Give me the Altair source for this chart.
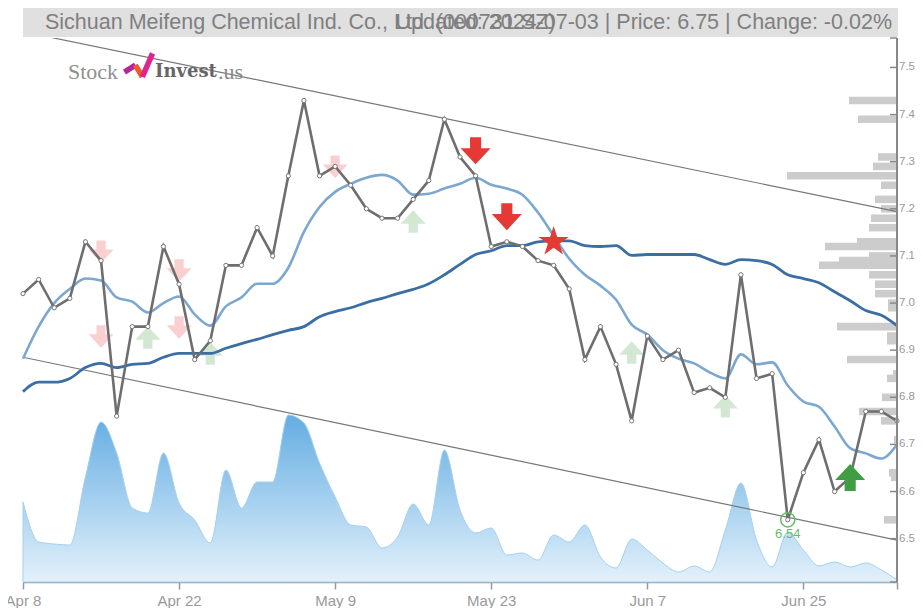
import altair as alt
import pandas as pd

dates = {0: "Apr 8", 10: "Apr 22", 20: "May 9", 30: "May 23", 40: "Jun 7", 50: "Jun 25"}
price = [7.02,7.05,6.99,7.01,7.13,7.09,6.76,6.95,6.95,7.12,7.04,6.88,6.92,7.08,7.08,7.16,7.10,7.27,7.43,7.27,
         7.29,7.25,7.20,7.18,7.18,7.22,7.26,7.39,7.31,7.27,7.12,7.13,7.12,7.09,7.08,7.03,6.88,6.95,6.87,6.75,
         6.93,6.88,6.90,6.81,6.82,6.80,7.06,6.84,6.85,6.54,6.64,6.71,6.60,6.63,6.77,6.77,6.75]
ma_short = [6.882,6.95,7.00,7.03,7.052,7.048,7.012,7.003,6.98,7.00,7.014,6.976,6.952,6.993,7.012,7.041,7.041,7.075,7.151,7.204,
            7.236,7.253,7.266,7.272,7.26,7.23,7.232,7.243,7.253,7.266,7.251,7.243,7.23,7.192,7.143,7.094,7.06,7.037,7.007,6.954,
            6.933,6.90,6.882,6.872,6.853,6.84,6.891,6.87,6.874,6.825,6.791,6.78,6.738,6.692,6.681,6.67,6.70]
ma_long = [6.812,6.832,6.832,6.84,6.863,6.872,6.863,6.87,6.872,6.885,6.893,6.893,6.893,6.904,6.914,6.923,6.933,6.942,6.95,6.971,
           6.982,6.99,7.001,7.01,7.02,7.029,7.041,7.06,7.082,7.103,7.111,7.122,7.122,7.13,7.132,7.132,7.122,7.12,7.122,7.101,
           7.103,7.103,7.103,7.103,7.092,7.082,7.092,7.09,7.082,7.06,7.052,7.043,7.024,7.005,6.984,6.974,6.952]
volume = [80,40,38,37,105,160,129,74,69,129,79,62,39,112,74,100,100,167,159,119,85,57,55,34,45,78,57,132,72,49,54,27,29,22,
          47,40,57,25,14,43,32,19,10,16,10,52,99,42,15,50,32,16,20,15,19,12,2]
profile_price = [7.43,7.39,7.31,7.29,7.27,7.25,7.22,7.20,7.18,7.16,7.13,7.12,7.10,7.09,7.08,7.06,7.04,7.02,7.00,6.99,
                 6.95,6.93,6.92,6.88,6.85,6.84,6.80,6.77,6.75,6.71,6.64,6.63,6.54]
profile_size = [48,39,19,24,110,16,22,16,26,28,40,72,28,58,78,28,22,22,9,9,60,10,10,50,4,10,15,38,16,3,8,6,13]
trend_x = [0, 56]
trend_upper = [7.576, 7.194]
trend_lower = [6.885, 6.497]
sell_weak_x, sell_weak_y = [5, 5, 10, 10, 20], [7.109, 6.929, 7.069, 6.948, 7.289]
buy_weak_x, buy_weak_y = [8, 12, 25, 39, 45], [6.927, 6.893, 7.173, 6.895, 6.781]
sell_strong_x, sell_strong_y = [29, 31], [7.323, 7.183]
buy_strong_x, buy_strong_y = [53], [6.63]
star_x, star_y = [34], [7.13]
low_x, low_y = [49], [6.54]
y_ticks = [6.5, 6.6, 6.7, 6.8, 6.9, 7.0, 7.1, 7.2, 7.3, 7.4, 7.5]
logo_x = [6.5, 7.2, 7.2, 7.65, 7.65, 8.3]
logo_y = [7.49, 7.505, 7.505, 7.48, 7.48, 7.53]
logo_piece = ["a", "a", "b", "b", "c", "c"]
title_left = "Sichuan Meifeng Chemical Ind. Co., Ltd. (000731.SZ)"
title_right = "Updated: 2024-07-03 | Price: 6.75 | Change: -0.02%"

W, H = 874, 544
X_MAX = len(price) - 1
PX_PER_IDX = W / X_MAX
Y_DOM = [6.408, 7.5625]
FONT = "Liberation Sans"
GREY = "#9a9a9a"

x_scale = alt.Scale(domain=[0, X_MAX], nice=False, zero=False)
y_scale = alt.Scale(domain=Y_DOM, nice=False, zero=False)
X = lambda f="x:Q": alt.X(f, scale=x_scale, title=None)
Y = lambda f="y:Q": alt.Y(f, scale=y_scale, axis=None)

main = pd.DataFrame({"x": range(len(price)), "price": price, "ma_short": ma_short,
                     "ma_long": ma_long, "volume": volume})
lab_expr = "{" + ",".join(f"'{k}':'{v}'" for k, v in dates.items()) + "}[datum.value] || ''"

def pts(xs, ys):
    return pd.DataFrame({"x": xs, "y": ys})

area = alt.Chart(main).mark_area(
    interpolate="monotone", stroke="#a5d0f0", strokeWidth=1,
    color=alt.Gradient(gradient="linear", x1=0, x2=0, y1=0, y2=1,
                       stops=[alt.GradientStop(color="#64ade2", offset=0),
                              alt.GradientStop(color="#e3f1fb", offset=1)])
).encode(
    x=alt.X("x:Q", scale=x_scale, title=None, axis=alt.Axis(
        values=list(dates.keys()) + [X_MAX], labelExpr=lab_expr, grid=False, title=None,
        domainColor="#999999", tickColor="#999999", domainWidth=1.5, tickWidth=1.5, tickSize=7,
        labelColor=GREY, labelFont=FONT, labelFontSize=15, labelPadding=4, labelOverlap=False,
        labelFlush=False)),
    y=alt.Y("volume:Q", scale=alt.Scale(domain=[0, H], nice=False), axis=None),
)

bars_df = pd.DataFrame({"p": profile_price, "size": profile_size})
bars_df["left"] = X_MAX - bars_df["size"] / PX_PER_IDX
bars_df["right"] = X_MAX
bars_df["lo"] = bars_df["p"] - 0.008
bars_df["hi"] = bars_df["p"] + 0.008
bars = alt.Chart(bars_df).mark_rect(color="#cccccc").encode(
    x=X("left:Q"), x2="right:Q",
    y=Y("lo:Q"), y2="hi:Q")

trend_df = pd.DataFrame({"x": trend_x, "u": trend_upper, "l": trend_lower})
trend_u = alt.Chart(trend_df).mark_line(color="#777777", strokeWidth=1.2, clip=True).encode(x=X(), y=Y("u:Q"))
trend_l = alt.Chart(trend_df).mark_line(color="#777777", strokeWidth=1.2, clip=True).encode(x=X(), y=Y("l:Q"))

DOWN = "M-0.37,-0.9 L0.37,-0.9 L0.37,-0.18 L1,-0.18 L0,0.9 L-1,-0.18 L-0.37,-0.18 Z"
UP = "M-0.37,0.9 L0.37,0.9 L0.37,0.18 L1,0.18 L0,-0.9 L-1,0.18 L-0.37,0.18 Z"
STAR = "M0,-1 L0.2245,-0.309 L0.951,-0.309 L0.363,0.118 L0.588,0.809 L0,0.382 L-0.588,0.809 L-0.363,0.118 L-0.951,-0.309 L-0.2245,-0.309 Z"

def arrows(xs, ys, shape, color, size, opacity=1.0):
    return alt.Chart(pts(xs, ys)).mark_point(
        shape=shape, filled=True, fill=color, strokeWidth=0, size=size, opacity=opacity
    ).encode(x=X(), y=Y())

weak = [arrows(sell_weak_x, sell_weak_y, DOWN, "#e53935", 625, 0.24),
        arrows(buy_weak_x, buy_weak_y, UP, "#43a047", 625, 0.24)]

ma_l = alt.Chart(main).mark_line(color="#7ba7d0", strokeWidth=2.6, interpolate="monotone").encode(x=X(), y=Y("ma_short:Q"))
ma_d = alt.Chart(main).mark_line(color="#3a6ea5", strokeWidth=2.8, interpolate="monotone").encode(x=X(), y=Y("ma_long:Q"))
px_line = alt.Chart(main).mark_line(color="#6e6e6e", strokeWidth=2.6).encode(x=X(), y=Y("price:Q"))
px_pts = alt.Chart(main).mark_point(filled=True, fill="#ffffff", stroke="#777777", strokeWidth=1, size=18, opacity=1).encode(x=X(), y=Y("price:Q"))

strong = [arrows(sell_strong_x, sell_strong_y, DOWN, "#e53935", 900),
          arrows(buy_strong_x, buy_strong_y, UP, "#3f9e43", 900),
          arrows(star_x, star_y, STAR, "#e53935", 1000)]

low_ring = alt.Chart(pts(low_x, low_y)).mark_point(shape="circle", filled=False, stroke="#66bb6a", strokeWidth=1.5, size=200, opacity=1).encode(x=X(), y=Y())
low_txt = alt.Chart(pd.DataFrame({"x": low_x, "y": low_y, "t": ["6.54"]})).mark_text(
    color="#66bb6a", font=FONT, fontSize=13, dy=14).encode(x=X(), y=Y(), text="t:N")

tick_df = pd.DataFrame({"y": y_ticks + Y_DOM})
tick_df["a"] = X_MAX - 7 / PX_PER_IDX
tick_df["b"] = X_MAX
y_tick_rules = alt.Chart(tick_df).mark_rule(color="#888888", strokeWidth=1.5).encode(
    x=X("a:Q"), x2="b:Q", y=Y())
y_axis_rule = alt.Chart(pd.DataFrame({"x": [X_MAX], "lo": [Y_DOM[0]], "hi": [Y_DOM[1]]})).mark_rule(color="#888888", strokeWidth=2).encode(
    x=X(), y=Y("lo:Q"), y2="hi:Q")
y_labels = alt.Chart(pd.DataFrame({"x": [X_MAX] * len(y_ticks), "y": y_ticks, "t": [f"{v:.1f}" for v in y_ticks]})).mark_text(
    align="left", dx=2, color=GREY, font=FONT, fontSize=11.5).encode(x=X(), y=Y(), text="t:N")

logo_df = pd.DataFrame({"x": logo_x, "y": logo_y, "piece": logo_piece})
logo_icon = alt.Chart(logo_df).mark_line(strokeWidth=5.5).encode(
    x=X(), y=Y(), detail="piece:N",
    color=alt.Color("piece:N", legend=None, scale=alt.Scale(domain=["a", "b", "c"], range=["#b5259a", "#f2592a", "#e0248f"])))

def label(text, px, py, **kw):
    return alt.Chart(pd.DataFrame({"t": [text]})).mark_text(**kw).encode(
        x=alt.value(px), y=alt.value(py), text="t:N")

band = alt.Chart(pd.DataFrame({"a": [0]})).mark_rect(color="#e0e0e0").encode(
    x=alt.value(0), x2=alt.value(W + 1), y=alt.value(-31), y2=alt.value(-1))
t1 = label(title_left, 22, -15, align="left", baseline="middle", color="#7f7f7f", font=FONT, fontSize=21.5)
t2 = label(title_right, W - 5, -15, align="right", baseline="middle", color="#7f7f7f", font=FONT, fontSize=21.5)
logo1 = label("Stock", 45, 34, align="left", color="#8f8f8f", font="Liberation Serif", fontSize=22)
logo2 = label("Invest", 132, 34, align="left", color="#666666", font="DejaVu Serif", fontSize=18, fontWeight="bold")
logo3 = label(".us", 195, 34, align="left", color="#888888", font="Liberation Serif", fontSize=22)

price_group = alt.layer(
    bars, trend_u, trend_l, *weak, ma_l, ma_d, px_line, px_pts, *strong, low_ring, low_txt,
    y_tick_rules, y_axis_rule, y_labels, logo_icon
)

chart = alt.layer(area, price_group, band, t1, t2, logo1, logo2, logo3).resolve_scale(
    y="independent", color="independent"
).properties(
    width=W, height=H, padding={"left": 15, "top": 30, "right": 18, "bottom": 26},
    autosize=alt.AutoSizeParams(type="none"), background="#ffffff"
).configure_view(stroke=None)

chart.save("out.html", embed_options={"renderer": "svg", "actions": False})
